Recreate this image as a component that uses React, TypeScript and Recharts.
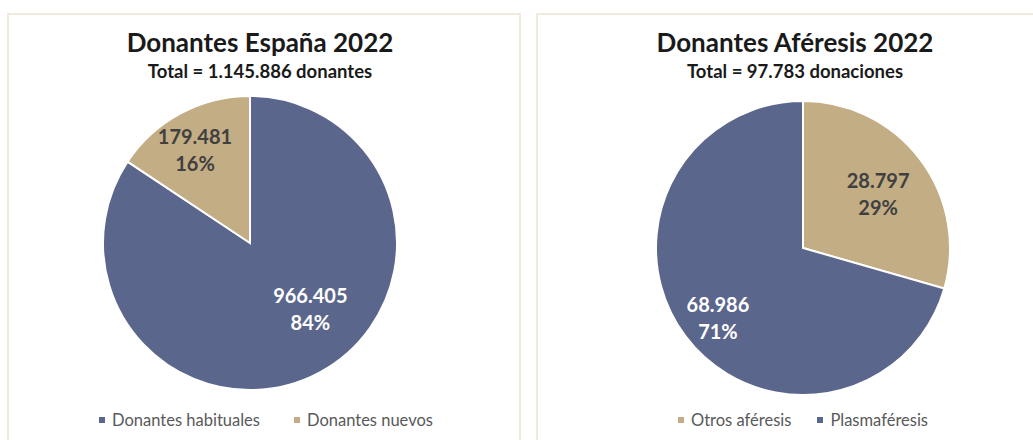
import { Cell, Legend, Pie, PieChart } from "recharts";

const espanaNames = ["Donantes habituales", "Donantes nuevos"];
const espanaValues = [966405, 179481];

const aferesisNames = ["Otros aféresis", "Plasmaféresis"];
const aferesisValues = [28797, 68986];

const BLUE = "#5b668c";
const BEIGE = "#c3ad84";
const FONT = "Lato, 'Open Sans', sans-serif";

const fmt = (n: number) => String(Math.round(n)).replace(/\B(?=(\d{3})+(?!\d))/g, ".");

interface PanelProps {
    left: number;
    title: string;
    subtitle: string;
    names: string[];
    values: number[];
    colors: string[];
    labelColors: string[];
    // label spot per slice: angle (deg) and fraction of radius
    labelSpots: { angle: number; r: number }[];
    cx: number;
    cy: number;
    titleShift: number;
    legendShift: number;
    legendGap: number;
}

function PiePanel({
    left, title, subtitle, names, values, colors, labelColors,
    labelSpots, cx, cy, titleShift, legendShift, legendGap,
}: PanelProps) {
    const data = names.map((name, i) => ({ name, value: values[i] }));
    const total = values.reduce((a, b) => a + b, 0);

    const renderLabel = (props: any) => {
        const { cx: px, cy: py, outerRadius, index, value } = props;
        const spot = labelSpots[index];
        const rad = (spot.angle * Math.PI) / 180;
        const x = px + outerRadius * spot.r * Math.cos(rad);
        const y = py - outerRadius * spot.r * Math.sin(rad);
        const pct = Math.round((value / total) * 100);
        return (
            <text
                x={x}
                y={y}
                textAnchor="middle"
                fill={labelColors[index]}
                fontFamily={FONT}
                fontWeight={700}
                fontSize={20}
            >
                <tspan x={x} dy={-6}>{fmt(value)}</tspan>
                <tspan x={x} dy={27}>{pct}%</tspan>
            </text>
        );
    };

    const renderLegend = () => (
        <div
            style={{
                display: "flex",
                justifyContent: "center",
                gap: legendGap,
                marginLeft: legendShift,
                fontFamily: FONT,
                fontSize: 16.5,
                color: "#595959",
                lineHeight: "20px",
            }}
        >
            {data.map((d, i) => (
                <div key={d.name} style={{ display: "flex", alignItems: "center" }}>
                    <span
                        style={{
                            display: "inline-block",
                            width: 6,
                            height: 6,
                            background: colors[i],
                            marginRight: 7,
                        }}
                    />
                    <span>{d.name}</span>
                </div>
            ))}
        </div>
    );

    return (
        <div
            style={{
                position: "absolute",
                left,
                top: 13,
                width: 510,
                height: 440,
                border: "2px solid #f1eadf",
                background: "#fff",
            }}
        >
            <div
                style={{
                    position: "absolute",
                    left: titleShift,
                    top: 14,
                    width: "100%",
                    textAlign: "center",
                    fontFamily: FONT,
                    color: "#1a1a1a",
                    fontWeight: 700,
                    lineHeight: 1,
                }}
            >
                <div style={{ fontSize: 26 }}>{title}</div>
                <div style={{ fontSize: 18.5, marginTop: 7 }}>{subtitle.replace("#", fmt(total))}</div>
            </div>
            <PieChart
                width={510}
                height={430}
                margin={{ top: 0, right: 0, bottom: 0, left: 0 }}
                style={{ position: "absolute", left: 0, top: 0 }}
            >
                <Pie
                    data={data}
                    dataKey="value"
                    nameKey="name"
                    cx={cx}
                    cy={cy}
                    outerRadius={147}
                    startAngle={90}
                    endAngle={-270}
                    stroke="#ffffff"
                    strokeWidth={2}
                    label={renderLabel}
                    labelLine={false}
                    isAnimationActive={false}
                >
                    {data.map((d, i) => (
                        <Cell key={d.name} fill={colors[i]} />
                    ))}
                </Pie>
                <Legend
                    content={renderLegend}
                    verticalAlign="bottom"
                    wrapperStyle={{ left: 0, width: 510, bottom: 15 }}
                />
            </PieChart>
        </div>
    );
}

export default function App() {
    return (
        <div style={{ position: "absolute", left: 0, top: 0, width: 1033, height: 440, overflow: "hidden", background: "#fff" }}>
            <PiePanel
                left={7}
                title="Donantes España 2022"
                subtitle="Total = # donantes"
                names={espanaNames}
                values={espanaValues}
                colors={[BLUE, BEIGE]}
                labelColors={["#ffffff", "#404040"]}
                labelSpots={[{ angle: -47.7, r: 0.61 }, { angle: 120.6, r: 0.735 }]}
                cx={241}
                cy={228}
                titleShift={-4}
                legendShift={4}
                legendGap={34}
            />
            <PiePanel
                left={536}
                title="Donantes Aféresis 2022"
                subtitle="Total = # donaciones"
                names={aferesisNames}
                values={aferesisValues}
                colors={[BEIGE, BLUE]}
                labelColors={["#404040", "#ffffff"]}
                labelSpots={[{ angle: 35.8, r: 0.63 }, { angle: -140.5, r: 0.75 }]}
                cx={265}
                cy={233}
                titleShift={2}
                legendShift={20}
                legendGap={26}
            />
        </div>
    );
}
